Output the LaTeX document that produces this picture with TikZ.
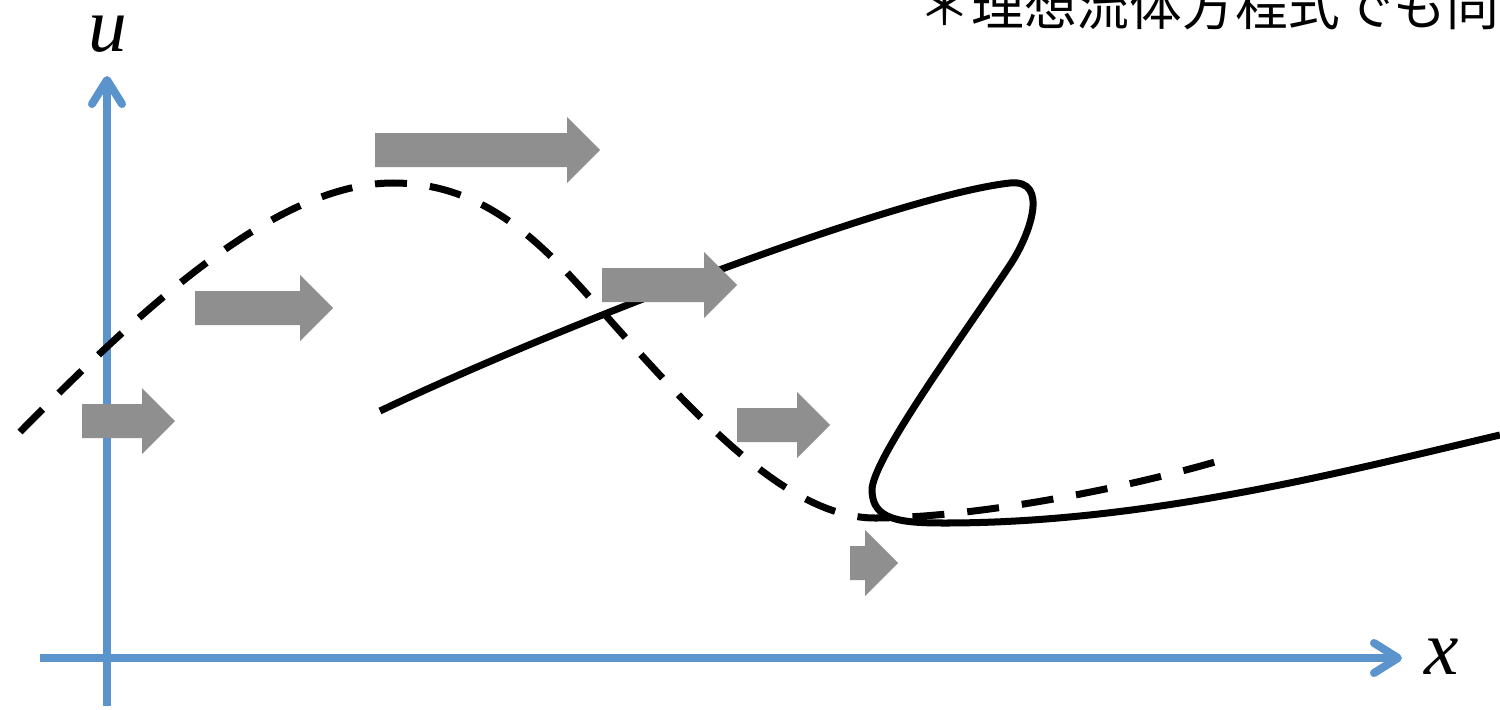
\documentclass[tikz,border=0pt]{standalone}
\usepackage{fontspec}
\newfontfamily\cjk{Noto Sans CJK JP}
\newfontfamily\serifo{Liberation Serif}
\usetikzlibrary{arrows.meta}
\definecolor{bluasse}{RGB}{91,147,205}
\definecolor{grigiofreccia}{RGB}{143,143,143}
\tikzset{
  asse/.style={draw=bluasse, line width=0.08cm, -{Straight Barb[length=0.24cm,width=0.3cm,round]}},
  curva/.style={line width=0.07cm, black},
  tratteggio/.style={curva, dash pattern=on 0.32cm off 0.23cm},
  freccia/.style={fill=grigiofreccia},
  etichetta/.style={inner sep=0pt, font=\serifo\itshape\fontsize{22}{22}\selectfont}
}
\begin{document}
\begin{tikzpicture}[x=0.01cm, y=-0.01cm]
        \useasboundingbox (0,0) rectangle (1500,709);
        \clip (0,0) rectangle (1500,709);

        %%%%%%%%%% Assi %%%%%%%%%%
        \coordinate (uBasso) at (107,706);
        \coordinate (uAlto) at (107,76);
        \coordinate (xSinistra) at (40,658);
        \coordinate (xDestra) at (1402,658);
        \draw[asse] (uBasso) -- (uAlto);
        \draw[asse] (xSinistra) -- (xDestra);
        \node[etichetta] (etichettaU) at (108,34) {u};
        \node[etichetta] (etichettaX) at (1442,657) {x};

        %%%%%%%%% Curve %%%%%%%%%
        \draw[tratteggio] (20,432) .. controls (150,300) and (280,183) .. (393,183)
                .. controls (500,183) and (560,265) .. (625,337)
                .. controls (700,420) and (790,518) .. (875,518)
                .. controls (960,518) and (1100,495) .. (1215,462);
        \draw[curva] (380,411) .. controls (560,325) and (900,195) .. (1010,183)
                .. controls (1050,179) and (1030,235) .. (1010,265)
                .. controls (960,340) and (872,460) .. (872,490)
                .. controls (872,520) and (900,523) .. (945,523)
                .. controls (1150,523) and (1350,470) .. (1500,435);

        %%%%%%%%% Frecce %%%%%%%%%
        \foreach \coda/\punta/\quota in {82/175/421, 195/333/308, 375/600/150,
                602/737/285, 737/830/425, 850/898/563}
            \fill[freccia] (\coda,\quota-17) -- (\punta-33,\quota-17) -- (\punta-33,\quota-33)
                -- (\punta,\quota) -- (\punta-33,\quota+33) -- (\punta-33,\quota+17)
                -- (\coda,\quota+17) -- cycle;

        %%%%%%%%% Nota %%%%%%%%%
        \node[inner sep=0pt, anchor=base west, font=\cjk\fontsize{15}{15}\selectfont] (nota) at (918,25) {＊理想流体方程式でも同};
    \end{tikzpicture}
\end{document}
